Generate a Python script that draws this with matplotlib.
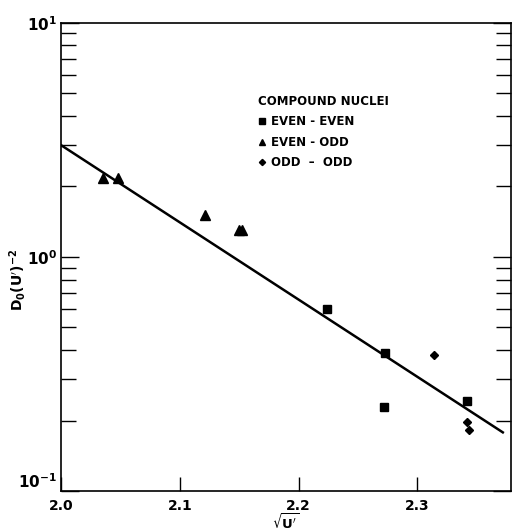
import numpy as np
from matplotlib import pyplot as plt

plt.rcParams['font.family'] = ['DejaVu Sans']
plt.rcParams['font.weight'] = 'bold'

# sqrt(U') and D0 (U')^-2
even_even_x = [2.2237, 2.2727, 2.2719, 2.3418]
even_even_y = [0.598, 0.390, 0.229, 0.242]

even_odd_x = [2.0351, 2.0477, 2.1210, 2.1498, 2.1526]
even_odd_y = [2.17, 2.18, 1.51, 1.30, 1.30]

odd_odd_x = [2.3137, 2.3418, 2.3437]
odd_odd_y = [0.380, 0.197, 0.182]

# fitted line ends
fit_x = [2.0, 2.372]
fit_y = [3.0, 0.178]

fig = plt.figure(figsize=(5.13, 5.31), dpi=100)
ax = fig.add_axes([0.1189, 0.0753, 0.877, 0.882])

ax.plot(fit_x, fit_y, color='black', lw=1.8)
ee, = ax.plot(even_even_x, even_even_y, 's', color='black', ms=5.8, ls='none',
              label='EVEN - EVEN')
eo, = ax.plot(even_odd_x, even_odd_y, '^', color='black', ms=6.5, ls='none',
              label='EVEN - ODD')
oo, = ax.plot(odd_odd_x, odd_odd_y, 'D', color='black', ms=4.2, ls='none',
              label='ODD  \u2013  ODD')

ax.set_yscale('log')
ax.set_xlim(2.0, 2.3788)
ax.set_ylim(0.1, 10)
ax.set_xticks([2.0, 2.1, 2.2, 2.3])
ax.set_xticklabels(['2.0', '2.1', '2.2', '2.3'], fontsize=10, fontweight='bold')
ax.set_yticks([0.1, 1, 10])
ax.set_yticklabels(['$\\mathbf{10^{-1}}$', '$\\mathbf{10^{0}}$', '$\\mathbf{10^{1}}$'],
                   fontsize=11)

ax.tick_params(axis='x', which='major', direction='in', length=10, width=1,
               top=False, pad=6)
ax.tick_params(axis='y', which='both', direction='in', right=True, width=1)
ax.tick_params(axis='y', which='major', length=13, pad=3)
ax.tick_params(axis='y', which='minor', length=11)
ax.tick_params(axis='x', which='minor', bottom=False, top=False)
for s in ax.spines.values():
    s.set_linewidth(1.2)

# lift the bottom decade label a little so it only touches "2.0"
ax.get_yticklabels()[0].set_verticalalignment('bottom')

ax.set_ylabel("D$_\\mathbf{0}$(U$'$)$^\\mathbf{-2}$", fontsize=10, fontweight='bold')
ax.yaxis.set_label_coords(-0.074, 0.45)
ax.set_xlabel("$\\mathbf{\\sqrt{U'}}$", fontsize=9.5)
ax.xaxis.set_label_coords(0.5, -0.046)

leg = ax.legend(handles=[ee, eo, oo], title='COMPOUND NUCLEI', loc='upper left',
                bbox_to_anchor=(0.415, 0.868), frameon=False, alignment='left',
                handlelength=0.6, handletextpad=0.5, labelspacing=0.62,
                fontsize=8.5, title_fontsize=8.5, markerscale=0.75)
leg.get_title().set_fontweight('bold')

fig.savefig('out.png', dpi=100)
